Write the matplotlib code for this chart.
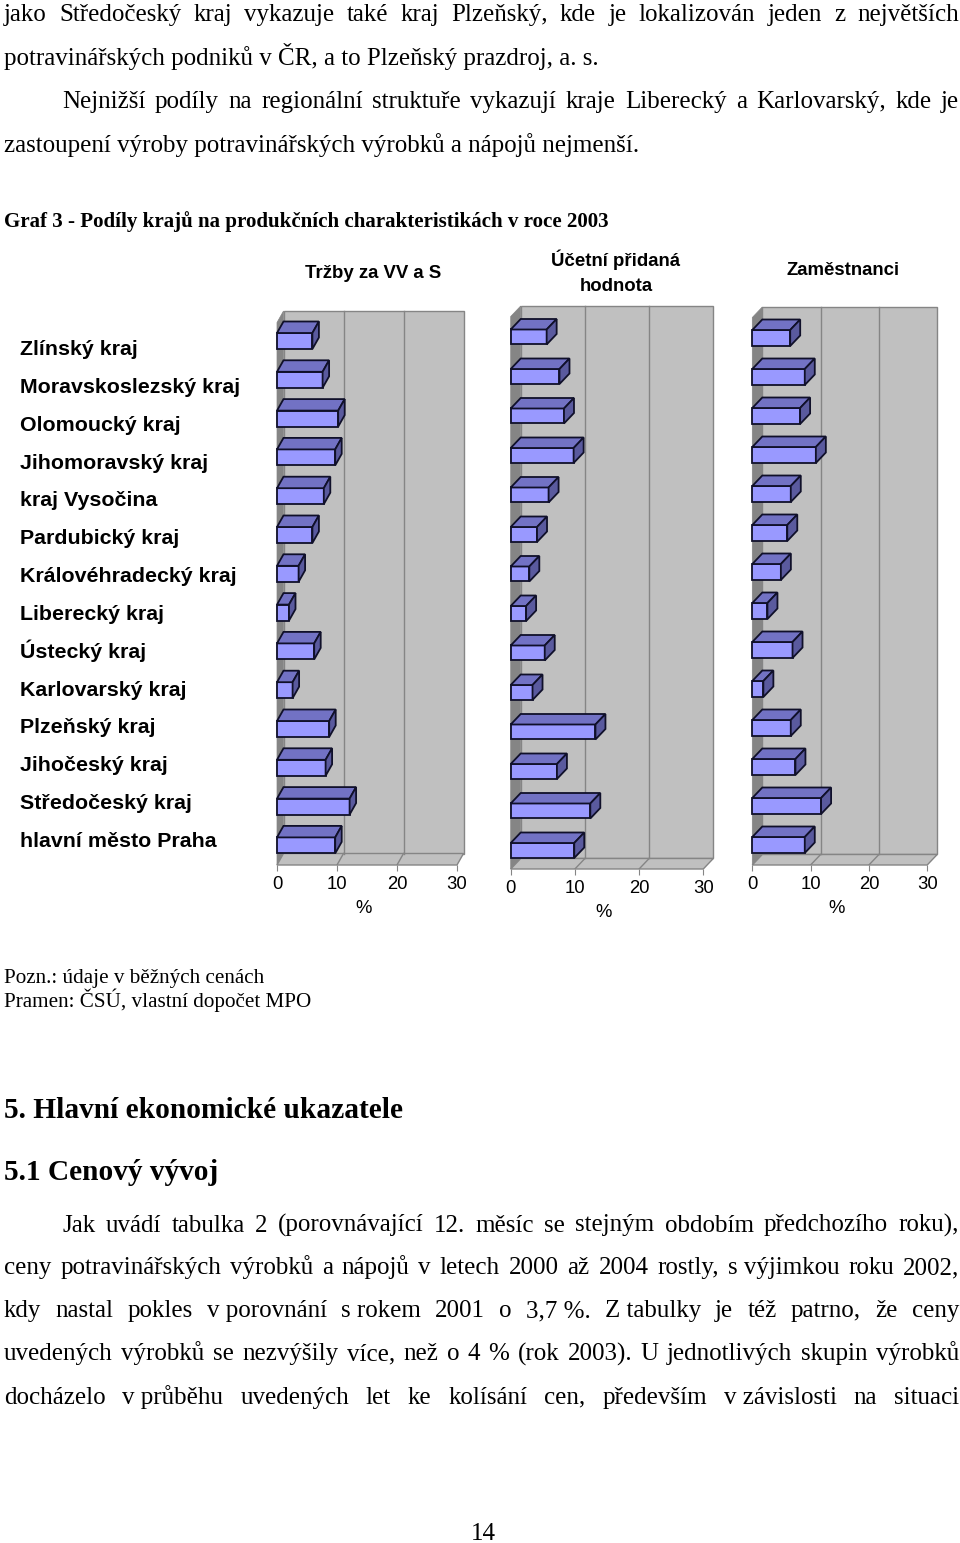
import matplotlib
matplotlib.use('Agg')
import matplotlib.pyplot as plt
from matplotlib.patches import Polygon

# --- data (share in %) ---
regions = ['Zlínský kraj', 'Moravskoslezský kraj', 'Olomoucký kraj', 'Jihomoravský kraj',
           'kraj Vysočina', 'Pardubický kraj', 'Královéhradecký kraj', 'Liberecký kraj',
           'Ústecký kraj', 'Karlovarský kraj', 'Plzeňský kraj', 'Jihočeský kraj',
           'Středočeský kraj', 'hlavní město Praha']
trzby = [5.9, 7.6, 10.2, 9.7, 7.8, 5.9, 3.6, 2.0, 6.2, 2.6, 8.7, 8.1, 12.1, 9.7]
pridana_hodnota = [5.6, 7.6, 8.3, 9.8, 5.9, 4.1, 2.9, 2.4, 5.3, 3.4, 13.2, 7.2, 12.4, 9.9]
zamestnanci = [6.5, 9.0, 8.2, 10.9, 6.6, 6.0, 4.9, 2.6, 6.9, 1.9, 6.6, 7.4, 11.8, 9.0]
panel_titles = ['Tržby za VV a S', 'Účetní přidaná\nhodnota', 'Zaměstnanci']
xticks = [0, 10, 20, 30]

# --- page text ---
para1 = [
    'jako Středočeský kraj vykazuje také kraj Plzeňský, kde je lokalizován jeden z největších'.split(),
    'potravinářských podniků v ČR, a to Plzeňský prazdroj, a. s.',
    'Nejnižší podíly na regionální struktuře vykazují kraje Liberecký a Karlovarský, kde je'.split(),
    'zastoupení výroby potravinářských výrobků a nápojů nejmenší.',
]
chart_title = 'Graf 3 - Podíly krajů na produkčních charakteristikách v roce 2003'
notes = ['Pozn.: údaje v běžných cenách', 'Pramen: ČSÚ, vlastní dopočet MPO']
heading1 = '5. Hlavní ekonomické ukazatele'
heading2 = '5.1 Cenový vývoj'
para2 = [
    'Jak uvádí tabulka 2 (porovnávající 12. měsíc se stejným obdobím předchozího roku),'.split(),
    ['ceny', 'potravinářských', 'výrobků', 'a', 'nápojů', 'v', 'letech', '2000', 'až', '2004',
     'rostly,', 's výjimkou', 'roku', '2002,'],
    ['kdy', 'nastal', 'pokles', 'v porovnání', 's rokem', '2001', 'o', '3,7 %.', 'Z tabulky',
     'je', 'též', 'patrno,', 'že', 'ceny'],
    ['uvedených', 'výrobků', 'se', 'nezvýšily', 'více,', 'než', 'o', '4', '%', '(rok', '2003).',
     'U', 'jednotlivých', 'skupin', 'výrobků'],
    ['docházelo', 'v průběhu', 'uvedených', 'let', 'ke', 'kolísání', 'cen,', 'především',
     'v závislosti', 'na', 'situaci'],
]

SERIF = 'Liberation Serif'
SANS = 'Liberation Sans'
FRONT = '#9999ff'
TOP = '#7272c4'
SIDE = '#5a5a9e'
EDGE = '#10102a'
WALL = '#c0c0c0'
LWALL = '#858585'
GRID = '#858585'

W, H = 960, 1543
fig = plt.figure(figsize=(W / 100, H / 100), dpi=100)
renderer = fig.canvas.get_renderer()


def fx(x):
    return x / W


def fy(y):
    return 1 - y / H


def put(x, y, s, size, **kw):
    kw.setdefault('va', 'baseline')
    return fig.text(fx(x), fy(y), s, fontsize=size, **kw)


def width_of(t):
    return t.get_window_extent(renderer).width


def fit(x, y, s, w, **kw):
    t = put(x, y, s, 10, **kw)
    t.set_fontsize(10 * w / width_of(t))
    return t


def justify(x0, x1, y, words, size, **kw):
    ts = [put(x0, y, w, size, **kw) for w in words]
    ws = [width_of(t) for t in ts]
    gap = (x1 - x0 - sum(ws)) / (len(ts) - 1)
    x = x0
    for t, w in zip(ts, ws):
        t.set_x(fx(x))
        x += w + gap


# body text
body = fit(4, 64.5, para1[3], 636, family=SERIF).get_fontsize()
fig.texts[-1].set_y(fy(152))
put(4, 64.5, para1[1], body, family=SERIF)
justify(4, 959, 21, para1[0], body, family=SERIF)
justify(62, 959, 108, para1[2], body, family=SERIF)

fit(4, 226.5, chart_title, 609, family=SERIF, weight='bold')

small = fit(4, 983, notes[0], 260, family=SERIF).get_fontsize()
put(4, 1007, notes[1], small, family=SERIF)

hsize = fit(4, 1118, heading1, 400, family=SERIF, weight='bold').get_fontsize()
put(4, 1180, heading2, hsize, family=SERIF, weight='bold')

justify(62, 959, 1231.5, para2[0], body, family=SERIF)
for k, line in enumerate(para2[1:]):
    justify(4, 959, 1274 + k * 43.2, line, body, family=SERIF)
put(483, 1540, '14', body, family=SERIF, ha='center')

# region labels
lab = fit(20, 393, regions[1], 220, family=SANS, weight='bold').get_fontsize()
for i, r in enumerate(regions):
    if i != 1:
        put(20, 355 + i * 37.85, r, lab, family=SANS, weight='bold')

# panel titles
put(373, 278, panel_titles[0], 13.4, family=SANS, weight='bold', ha='center')
put(616, 266, 'Účetní přidaná', 13.4, family=SANS, weight='bold', ha='center')
put(616, 291, 'hodnota', 13.4, family=SANS, weight='bold', ha='center')
put(843, 275, panel_titles[2], 13.4, family=SANS, weight='bold', ha='center')

# panel geometry in page pixels: zero of front axis, px per %, first row centre,
# row step, floor front line, wall top, depth dx/dy, bar thickness
panels = [
    dict(vals=trzby, x0=277, ppu=6.0, yc0=341, row=38.8, floor=865, top=311, dxp=6.5, dyp=11.5, hp=16),
    dict(vals=pridana_hodnota, x0=510.7, ppu=6.42, yc0=337, row=39.5, floor=869, top=306, dxp=10, dyp=10.5, hp=15),
    dict(vals=zamestnanci, x0=752.3, ppu=5.83, yc0=338, row=39.0, floor=865, top=307, dxp=10, dyp=10.5, hp=16),
]

for p in panels:
    L = p['x0'] - p['ppu']
    R = p['x0'] + 32 * p['ppu']
    T = p['top'] - 2
    B = p['floor']
    ax = fig.add_axes([fx(L), fy(B), (R - L) / W, (B - T) / H])
    ax.set_xlim(-1, 32)
    floor_i = (B - p['yc0']) / p['row']
    ax.set_ylim(floor_i, (T - p['yc0']) / p['row'])
    top_i = (p['top'] - p['yc0']) / p['row']
    DX = p['dxp'] / p['ppu']
    DY = p['dyp'] / p['row']
    h = p['hp'] / p['row']
    back_i = floor_i - DY

    # walls and floor
    ax.add_patch(Polygon([(DX, back_i), (30 + DX, back_i), (30 + DX, top_i), (DX, top_i)],
                         closed=True, fc=WALL, ec=GRID, lw=1, zorder=1, clip_on=False))
    ax.add_patch(Polygon([(0, floor_i), (DX, back_i), (DX, top_i), (0, top_i + DY)],
                         closed=True, fc=LWALL, ec=LWALL, lw=0.5, zorder=1, clip_on=False))
    ax.add_patch(Polygon([(0, floor_i), (30, floor_i), (30 + DX, back_i), (DX, back_i)],
                         closed=True, fc=WALL, ec=GRID, lw=1, zorder=1, clip_on=False))
    for g in xticks[1:3]:
        ax.plot([g + DX, g + DX], [back_i, top_i], color=GRID, lw=1, zorder=2)
        ax.plot([g, g + DX], [floor_i, back_i], color=GRID, lw=1, zorder=2)

    # 3d bars
    for i, v in enumerate(p['vals']):
        ax.barh(i, v, height=h, color=FRONT, edgecolor=EDGE, lw=1.3, zorder=4, clip_on=False)
        y_top = i - h / 2
        y_bot = i + h / 2
        ax.add_patch(Polygon([(0, y_top), (v, y_top), (v + DX, y_top - DY), (DX, y_top - DY)],
                             closed=True, fc=TOP, ec=EDGE, lw=1.3, zorder=4, clip_on=False))
        ax.add_patch(Polygon([(v, y_top), (v + DX, y_top - DY), (v + DX, y_bot - DY), (v, y_bot)],
                             closed=True, fc=SIDE, ec=EDGE, lw=1.3, zorder=4, clip_on=False))

    for s in ax.spines.values():
        s.set_visible(False)
    ax.set_yticks([])
    ax.set_xticks(xticks)
    ax.tick_params(axis='x', length=4, color=GRID, labelsize=13.3, pad=4)
    for t in ax.get_xticklabels():
        t.set_family(SANS)
    ax.set_xlabel('%', fontsize=13.3, family=SANS)
    ax.xaxis.set_label_coords(15.5 / 33, -35 / (B - T))
    ax.patch.set_visible(False)

fig.savefig('out.png', dpi=100)
